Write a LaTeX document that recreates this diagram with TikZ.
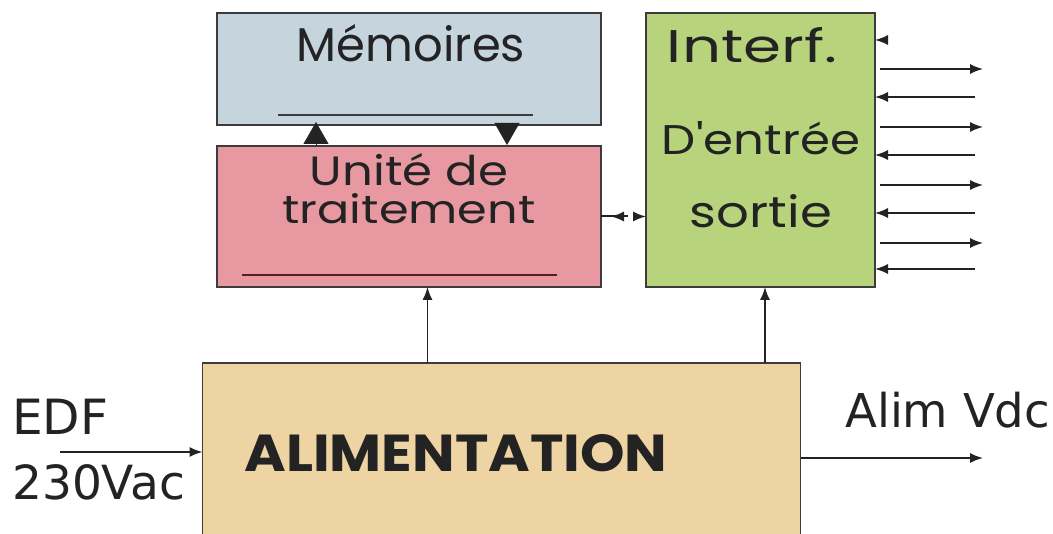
\documentclass[tikz,border=0pt]{standalone}
\usepackage{fontspec}
\usepackage{graphicx}
\usetikzlibrary{arrows.meta,calc}
\newfontfamily\boxfont{Poppins}
\newfontfamily\labfont{DejaVu Sans}
\definecolor{memfill}{RGB}{197,212,221}
\definecolor{unifill}{RGB}{231,152,160}
\definecolor{iofill}{RGB}{183,212,124}
\definecolor{alimfill}{RGB}{238,212,162}
\definecolor{edge}{RGB}{60,60,60}
\definecolor{txt}{RGB}{35,35,35}
\newcommand\fw[3]{\resizebox{#1pt}{#2pt}{#3}}
\newcommand\fx[2]{\resizebox{#1pt}{!}{#2}}
\begin{document}
\begin{tikzpicture}[x=1pt,y=-1pt,
  blk/.style={draw=edge,line width=1.3pt,inner sep=0pt,outer sep=0pt},
  lbl/.style={inner sep=0pt,text=txt,font=\boxfont},
  ext/.style={inner sep=0pt,text=txt,font=\labfont},
  conn/.style={draw=txt,line width=1.5pt,-{Latex[length=13pt,width=10pt]}},
  tri/.style={draw=txt,line width=1pt,-{Triangle[length=22pt,width=25pt]}}]
\clip (0,0) rectangle (1053,534);
\fill[white] (0,0) rectangle (1053,534);
% boxes
\node[blk,fill=memfill,minimum width=384pt,minimum height=112pt] (mem) at (409,69) {};
\node[blk,fill=unifill,minimum width=384pt,minimum height=141pt] (unite) at (409,216.5) {};
\node[blk,fill=iofill,minimum width=229pt,minimum height=274pt] (io) at (760.5,150) {};
\node[blk,fill=alimfill,minimum width=598pt,minimum height=200pt] (alim) at (501.5,463) {};
% inner lines
\draw[line width=1.3pt,draw=edge] ($(mem.south west)+(61,-10)$) coordinate (m1) -- ($(mem.south west)+(316,-10)$) coordinate (m2);
\draw[line width=1.3pt,draw={rgb,255:red,90;green,30;blue,30}] ($(unite.south west)+(25,-12)$) coordinate (u1) -- ($(unite.south west)+(340,-12)$) coordinate (u2);
% texts
\node[lbl,anchor=base] (tmem) at (411,62) {\fw{228}{37}{Mémoires}};
\node[lbl,anchor=north,align=center,font=\boxfont\fontsize{10}{38}\selectfont] (tu) at (409,153) {\fw{198}{32}{Unité de}\\\fw{253}{30}{traitement}};
\node[lbl,anchor=base] (tio1) at (752,63) {\fw{170}{35}{Interf.}};
\node[lbl,anchor=base] (tio2) at (761,155) {\fw{198}{33}{D'entrée}};
\node[lbl,anchor=base] (tio3) at (761,228) {\fw{142}{33}{sortie}};
\node[lbl,anchor=base,font=\boxfont\bfseries] (talim) at (456,472) {\fw{423}{37}{ALIMENTATION}};
\node[ext,anchor=base west] (tedf) at (12,435) {\fx{96}{EDF}};
\node[ext,anchor=base west] (tvac) at (12,500) {\fx{173}{230Vac}};
\node[ext,anchor=base west] (tvdc) at (845,428) {\fx{205}{Alim Vdc}};
% memory <-> processing triangles
\coordinate (upb) at ($(unite.north west)+(99,0)$);
\coordinate (dnb) at ($(mem.south west)+(290,0)$);
\draw[tri] (upb) -- ($(upb)+(0,-24)$);
\draw[tri] (dnb) -- ($(dnb)+(0,20)$);
% processing <-> io
\coordinate (pa) at ($(unite.east)+(27,0)$);
\coordinate (pb) at ($(unite.east)+(34,0)$);
\draw[line width=2pt,draw=txt] (unite.east) -- (pa);
\draw[conn] (pa) -- ($(unite.east)+(10,0)$);
\draw[conn] (pb) -- (pb -| io.west);
% power arrows
\coordinate (pw1) at ($(alim.north west)+(225,0)$);
\draw[conn] (pw1) -- (pw1 |- unite.south);
\coordinate (pw2) at ($(alim.north -| io.south)+(4.5,0)$);
\draw[conn] (pw2) -- (pw2 |- io.south);
% EDF input and Vdc output
\coordinate (edfs) at (60,452);
\draw[conn] (edfs) -- (edfs -| alim.west);
\coordinate (vdce) at (983,458);
\draw[conn] (vdce -| alim.east) -- (vdce);
% io small arrow
\coordinate (ios) at (888,40);
\draw[conn] (ios) -- (ios -| io.east);
% io side arrows
\foreach \yo/\yi [count=\k] in {69/97,127/155,185/213,243/269}{
  \coordinate (o\k) at (983,\yo);
  \coordinate (i\k) at (975,\yi);
  \draw[conn] ($(o\k -| io.east)+(5,0)$) -- (o\k);
  \draw[conn] (i\k) -- (i\k -| io.east);
}
\end{tikzpicture}
\end{document}
